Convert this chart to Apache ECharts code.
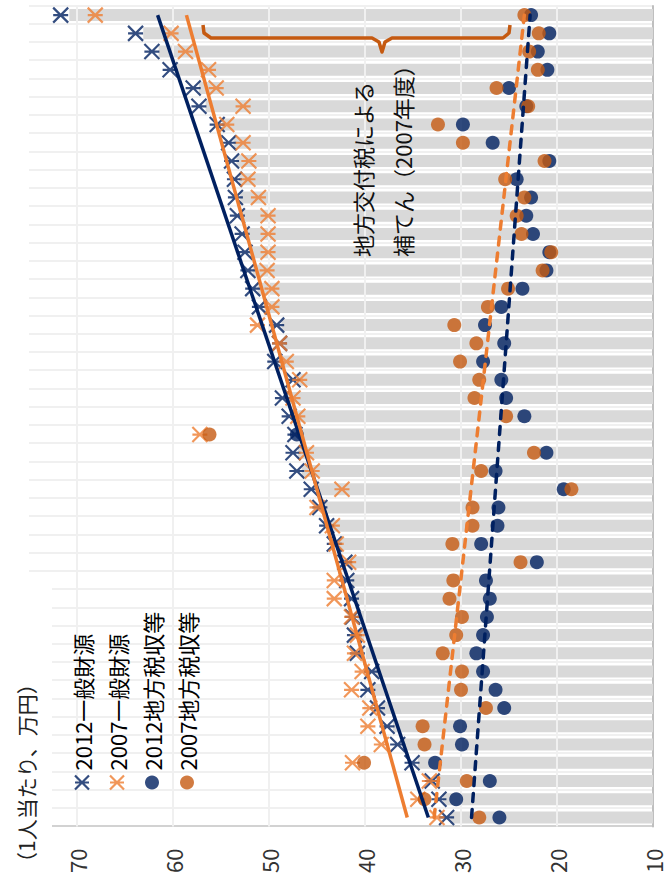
<!DOCTYPE html>
<html>
<head>
<meta charset="utf-8">
<script src="https://cdn.jsdelivr.net/npm/echarts@6/dist/echarts.min.js"></script>
<style>
html,body{margin:0;padding:0;background:#fff;overflow:hidden;width:664px;height:876px;}
#wrap{position:absolute;left:-106px;top:106px;width:876px;height:664px;transform:rotate(-90deg);transform-origin:50% 50%;}
#chart{width:876px;height:664px;}
</style>
</head>
<body>
<div id="wrap"><div id="chart"></div></div>
<script>
// categories (45 areas, ordered as in the picture from bottom to top)
const categories = ['1','2','3','4','5','6','7','8','9','10','11','12','13','14','15','16','17','18','19','20','21','22','23','24','25','26','27','28','29','30','31','32','33','34','35','36','37','38','39','40','41','42','43','44','45'];
const seriesNames = ['2012一般財源', '2007一般財源', '2012地方税収等', '2007地方税収等'];
const gen2012 = [31.5, 32.3, 33.0, 35.1, 36.6, 37.7, 38.7, 39.7, 39.3, 40.8, 41.1, 41.3, 41.4, 41.9, 42.1, 43.2, 44.0, 44.7, 45.6, 47.1, 47.5, 47.3, 47.9, 48.6, 47.5, 49.4, 48.9, 49.2, 51.0, 51.7, 52.2, 52.5, 52.8, 53.3, 53.5, 53.6, 53.9, 54.2, 55.4, 57.3, 57.9, 60.3, 62.2, 63.9, 71.7];
const gen2007 = [32.5, 34.5, 33.3, 41.3, 38.3, 39.7, 39.5, 41.4, 40.3, 41.1, 40.8, 41.4, 43.2, 43.2, 41.7, 43.0, 43.4, 45.0, 42.4, 45.5, 46.1, 57.2, 47.0, 47.5, 46.8, 48.2, 48.9, 51.2, 49.7, 49.7, 50.2, 50.1, 50.1, 50.1, 51.1, 52.2, 52.1, 52.7, 54.4, 52.7, 55.5, 56.3, 58.7, 60.2, 68.1];
const tax2012 = [26.0, 30.5, 27.0, 32.7, 29.9, 30.1, 25.5, 26.4, 27.7, 28.4, 27.7, 27.3, 27.0, 27.4, 22.1, 27.9, 26.2, 26.1, 19.3, 26.4, 21.1, 47.1, 23.4, 25.3, 25.8, 27.7, 25.5, 27.5, 25.8, 23.6, 21.1, 20.8, 22.5, 23.2, 22.7, 24.2, 20.8, 26.7, 29.8, 23.2, 25.0, 21.0, 22.0, 20.8, 22.7];
const tax2007 = [28.1, 33.8, 29.4, 40.1, 33.8, 34.0, 27.4, 30.0, 29.9, 31.9, 30.5, 29.9, 31.2, 30.8, 23.8, 30.9, 28.8, 28.8, 18.5, 27.9, 22.4, 56.2, 25.3, 28.6, 28.1, 30.1, 28.4, 30.7, 27.2, 25.1, 21.5, 20.6, 23.7, 24.2, 23.4, 25.4, 21.3, 29.8, 32.4, 23.0, 26.3, 22.0, 22.9, 21.9, 23.4];
const grayBand = [31.1, 31.9, 32.6, 34.5, 36.1, 37.1, 38.3, 39.2, 38.9, 40.3, 40.6, 40.8, 40.9, 41.4, 41.6, 42.7, 43.5, 44.2, 45.1, 46.6, 47.0, 46.8, 47.4, 48.1, 47.0, 48.9, 48.4, 48.7, 50.5, 51.2, 51.7, 52.0, 52.3, 52.8, 53.0, 53.1, 53.4, 53.7, 54.9, 56.6, 57.3, 59.6, 61.5, 63.1, 70.8];
// linear trend lines: value at first and at last category
const trendGen2012 = [33.4, 61.6];
const trendGen2007 = [35.6, 58.6];
const trendTax2012 = [28.9, 22.8];
const trendTax2007 = [32.8, 23.4];
const tickValues = [10, 20, 30, 40, 50, 60, 70];
const axisTitle = '（1人当たり、万円）';
const noteText = '地方交付税による\n補てん（2007年度）';

const NAVY = '#002060', ORANGE = '#ED7D31', DARKOR = '#C55A11';
const FONT = '"Noto Sans CJK JP", "Noto Sans", sans-serif';
const STAR = 'path://M0,0L12,12M12,0L0,12M6,0L6,12';
const last = categories.length - 1;
const ends = arr => [[0, arr[0]], [last, arr[1]]];

const chart = echarts.init(document.getElementById('chart'), null, {renderer: 'svg', width: 876, height: 664});
chart.setOption({
  animation: false,
  backgroundColor: '#fff',
  grid: {left: 47, right: 6, top: 29, bottom: 10},
  xAxis: {
    type: 'category', data: categories, boundaryGap: true,
    axisLine: {show: true, lineStyle: {color: '#BFBFBF', width: 2}},
    axisTick: {show: false}, axisLabel: {show: false},
    splitLine: {show: true, interval: 0, lineStyle: {color: '#EBEBEB', width: 1.5}}
  },
  yAxis: {
    type: 'value', min: 10, max: 75, interval: 10,
    axisLine: {show: true, lineStyle: {color: '#C8C8C8', width: 1.5}},
    axisTick: {show: false},
    axisLabel: {fontSize: 22, color: '#333', margin: 22, fontFamily: FONT,
      formatter: v => (tickValues.indexOf(v) >= 0 ? String(v) : '')},
    splitLine: {show: false}
  },
  legend: {
    orient: 'vertical', left: 79, top: 66, itemWidth: 14, itemHeight: 14, itemGap: 13,
    textStyle: {fontSize: 22, color: '#000', fontFamily: FONT},
    data: [
      {name: seriesNames[0], icon: STAR, itemStyle: {color: 'none', borderColor: NAVY, borderWidth: 2.2}},
      {name: seriesNames[1], icon: STAR, itemStyle: {color: 'none', borderColor: ORANGE, borderWidth: 2.2}},
      {name: seriesNames[2], icon: 'circle', itemStyle: {color: NAVY}},
      {name: seriesNames[3], icon: 'circle', itemStyle: {color: DARKOR}}
    ]
  },
  graphic: [
    {type: 'rect', z: 50, shape: {x: 0, y: 0, width: 300, height: 52}, style: {fill: '#fff'}},
    {type: 'text', z: 51, x: 3, y: 26, style: {text: axisTitle, font: '21px ' + FONT, fill: '#222', verticalAlign: 'middle'}},
    {type: 'text', z: 51, x: 619, y: 342, style: {text: noteText, font: '22px ' + FONT, fill: '#111', lineHeight: 40, verticalAlign: 'top'}},
    {type: 'polyline', z: 51, shape: {points: [[851,203],[843,204],[838,211],[838,372],[834,379],[824,382],[834,385],[838,392],[838,503],[843,509],[851,510]]},
      style: {stroke: DARKOR, lineWidth: 3.5, fill: 'none', lineJoin: 'round'}}
  ],
  series: [
    {type: 'bar', name: 'band', data: grayBand, barWidth: 12, z: 1, itemStyle: {color: '#D9D9D9'}, silent: true,
      markLine: {silent: true, symbol: 'none', z: 2, label: {show: false}, animation: false,
        lineStyle: {color: '#F0F0F0', width: 2, type: 'solid'},
        data: tickValues.slice(1).map(v => ({yAxis: v}))}},
    {type: 'scatter', name: seriesNames[0], data: gen2012, symbol: STAR, symbolSize: 15, z: 3,
      itemStyle: {color: 'none', borderColor: NAVY, borderWidth: 2.2}},
    {type: 'scatter', name: seriesNames[1], data: gen2007, symbol: STAR, symbolSize: 15, z: 3,
      itemStyle: {color: 'none', borderColor: ORANGE, borderWidth: 2.2}},
    {type: 'scatter', name: seriesNames[2], data: tax2012, symbol: 'circle', symbolSize: 14, z: 3,
      itemStyle: {color: NAVY}},
    {type: 'scatter', name: seriesNames[3], data: tax2007, symbol: 'circle', symbolSize: 14, z: 3,
      itemStyle: {color: DARKOR}},
    {type: 'line', name: 't1', data: ends(trendGen2012), showSymbol: false, z: 4, silent: true,
      lineStyle: {color: NAVY, width: 3.5}},
    {type: 'line', name: 't2', data: ends(trendGen2007), showSymbol: false, z: 4, silent: true,
      lineStyle: {color: ORANGE, width: 3.5}},
    {type: 'line', name: 't3', data: ends(trendTax2012), showSymbol: false, z: 4, silent: true,
      lineStyle: {color: NAVY, width: 3.5, type: [8, 8], cap: 'round'}},
    {type: 'line', name: 't4', data: ends(trendTax2007), showSymbol: false, z: 4, silent: true,
      lineStyle: {color: ORANGE, width: 3.5, type: [8, 8], cap: 'round'}}
  ]
});
</script>
</body>
</html>
